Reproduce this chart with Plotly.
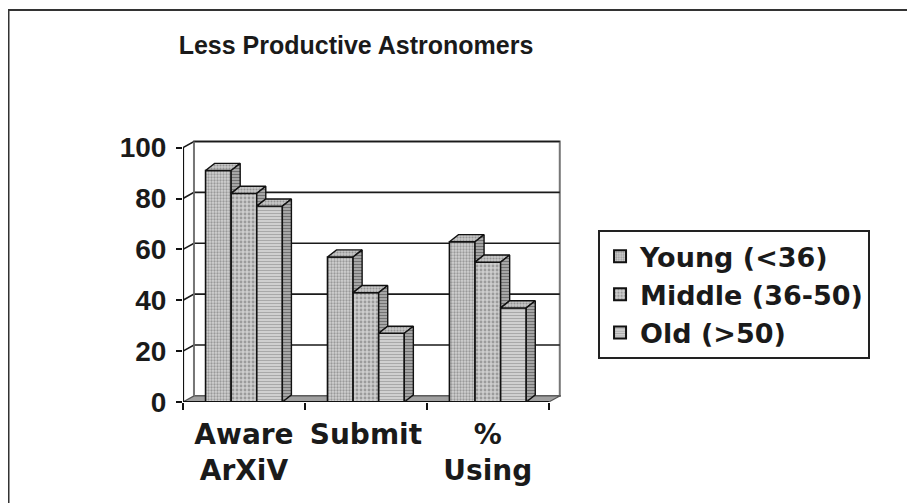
import plotly.graph_objects as go

# ---------------- data ----------------
categories = ["Aware<br>ArXiV", "Submit", "%<br>Using"]
series_names = ["Young (<36)", "Middle (36-50)", "Old (>50)"]
young = [91, 57, 63]
middle = [82, 43, 55]
old = [77, 27, 37]
y_ticks = [0, 20, 40, 60, 80, 100]
title_text = "Less Productive Astronomers"

# ---------------- style ----------------
FONT = "Liberation Sans, Arial, Helvetica, sans-serif"
WIDE_FONT = "DejaVu Sans, Liberation Sans, Arial, sans-serif"
BARGAP = 0.37
WALL_DX, WALL_DY = 0.09, 2.4      # depth of the 3-D floor / back wall (data units)
BAR_DX, BAR_DY = 0.074, 2.8       # depth of each 3-D bar (data units)
X_MIN, X_MAX = -0.5, len(categories) - 0.5
Y_MAX = max(y_ticks)

series = [young, middle, old]
front_styles = [
    dict(shape=".", fgcolor="#606060", bgcolor="#d2d2d2", size=3, solidity=0.45),
    dict(shape=".", fgcolor="#6a6a6a", bgcolor="#cdcdcd", size=4, solidity=0.4),
    dict(shape="-", fgcolor="#7a7a7a", bgcolor="#d8d8d8", size=3, solidity=0.45),
]
top_style = dict(shape=".", fgcolor="#606060", bgcolor="#c8c8c8", size=3, solidity=0.4)
side_style = dict(shape="-", fgcolor="#333333", bgcolor="#b0b0b0", size=3, solidity=0.45)

fig = go.Figure()

xs = list(range(len(categories)))
for name, vals, st in zip(series_names, series, front_styles):
    fig.add_trace(go.Bar(
        x=xs, y=vals, name=name,
        marker=dict(color=st["bgcolor"], pattern=st,
                    line=dict(color="#111111", width=1.6)),
        hoverinfo="skip",
    ))

# 3-D top and side faces, computed from the values
nser = len(series)
w = (1 - BARGAP) / nser
for i in xs:
    for k in range(nser):
        v = series[k][i]
        x0 = i - (1 - BARGAP) / 2 + k * w
        x1 = x0 + w
        fig.add_trace(go.Scatter(
            x=[x0, x1, x1 + BAR_DX, x0 + BAR_DX, x0],
            y=[v, v, v + BAR_DY, v + BAR_DY, v],
            mode="lines", fill="toself", fillpattern=top_style,
            fillcolor=top_style["bgcolor"],
            line=dict(color="#111111", width=1.4),
            showlegend=False, hoverinfo="skip"))
        base = series[k + 1][i] if k < nser - 1 else 0
        if base < v:
            fig.add_trace(go.Scatter(
                x=[x1, x1, x1 + BAR_DX, x1 + BAR_DX, x1],
                y=[base, v, v + BAR_DY, base + BAR_DY, base],
                mode="lines", fill="toself", fillpattern=side_style,
                fillcolor=side_style["bgcolor"],
                line=dict(color="#111111", width=1.4),
                showlegend=False, hoverinfo="skip"))

# walls, floor and gridlines (drawn below bars)
shapes = []
shapes.append(dict(type="rect", xref="x", yref="y", layer="below",
                   x0=X_MIN + WALL_DX, x1=X_MAX + WALL_DX,
                   y0=WALL_DY, y1=Y_MAX + WALL_DY,
                   line=dict(color="#777777", width=2), fillcolor="white"))
shapes.append(dict(type="path", xref="x", yref="y", layer="below",
                   path=f"M {X_MIN},0 L {X_MAX},0 L {X_MAX + WALL_DX},{WALL_DY} "
                        f"L {X_MIN + WALL_DX},{WALL_DY} Z",
                   line=dict(color="#555555", width=1.2), fillcolor="#a0a0a0"))
for t in y_ticks[1:]:
    shapes.append(dict(type="path", xref="x", yref="y", layer="below",
                       path=f"M {X_MIN},{t} L {X_MIN + WALL_DX},{t + WALL_DY} "
                            f"L {X_MAX + WALL_DX},{t + WALL_DY}",
                       line=dict(color="#1a1a1a", width=1.6)))
shapes.append(dict(type="line", xref="x", yref="y", layer="below",
                   x0=X_MIN + WALL_DX, x1=X_MIN + WALL_DX, y0=WALL_DY, y1=Y_MAX + WALL_DY,
                   line=dict(color="#777777", width=1.5)))
# front axis lines
shapes.append(dict(type="line", xref="x", yref="y", layer="above",
                   x0=X_MIN, x1=X_MIN, y0=0, y1=Y_MAX,
                   line=dict(color="#111111", width=2.2)))
shapes.append(dict(type="line", xref="x", yref="y", layer="above",
                   x0=X_MIN, x1=X_MAX, y0=0, y1=0,
                   line=dict(color="#111111", width=2.2)))
# outer chart frame
shapes.append(dict(type="rect", xref="paper", yref="paper",
                   x0=-0.4616, x1=1.918, y0=-0.45, y1=1.496,
                   line=dict(color="#333333", width=2)))

fig.update_layout(
    width=907, height=495,
    margin=dict(l=175, r=354, t=132, b=101),
    paper_bgcolor="white", plot_bgcolor="white",
    barmode="group", bargap=BARGAP, bargroupgap=0,
    shapes=shapes,
    showlegend=True,
    title=dict(text=title_text, x=0.3837, xanchor="center", y=0.925, yanchor="middle",
               font=dict(family=FONT, size=25, color="#1a1a1a", weight="bold")),
    legend=dict(x=1.098, y=0.656, xanchor="left", yanchor="top",
                bgcolor="white", bordercolor="#222222", borderwidth=2,
                font=dict(family=WIDE_FONT, size=27, color="#1a1a1a", weight="bold"),
                itemsizing="constant", traceorder="normal"),
    xaxis=dict(range=[X_MIN, X_MAX + WALL_DX + 0.01], tickmode="array",
               tickvals=xs, ticktext=categories, ticks="", showgrid=False,
               zeroline=False, showline=False, ticklabelstandoff=13,
               tickfont=dict(family=WIDE_FONT, size=28, color="#1a1a1a", weight="bold"),
               minor=dict(tickmode="array", tickvals=[X_MIN + j for j in range(len(categories) + 1)],
                          ticks="outside", ticklen=7, tickwidth=2, tickcolor="#111111")),
    yaxis=dict(range=[0, Y_MAX + WALL_DY + 0.6], tickmode="array", tickvals=y_ticks,
               ticks="outside", ticklen=6, tickwidth=2, tickcolor="#111111",
               showgrid=False, zeroline=False, showline=False, ticklabelstandoff=4,
               tickfont=dict(family=FONT, size=28, color="#1a1a1a", weight="bold")),
)

fig.write_html("out.html")
